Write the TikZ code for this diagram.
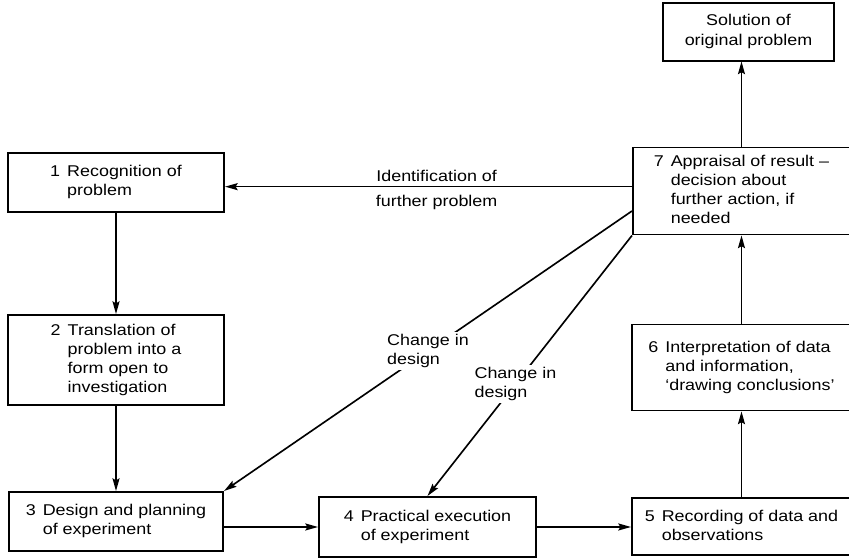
\documentclass[tikz,border=0pt]{standalone}
\usepackage{fontspec}
\setmainfont{Liberation Sans}[FakeStretch=1.15]
\usepackage{tikz}
\usetikzlibrary{arrows.meta}
\usetikzlibrary{positioning}
\tikzstyle{stage} = [rectangle, draw=black, line width=1.7pt, inner sep=0pt, minimum width=6.48cm, minimum height=1.77cm, text centered]
\tikzstyle{arrow} = [line width=1.4pt, -{Stealth[length=3.8mm, width=2.1mm, inset=0.6mm]}]
\tikzstyle{tag} = [fill=white, align=left, inner sep=1.5pt]
\newcommand{\stagetext}[2]{\begin{tabular}{@{}l@{\hspace{0.45em}}l@{}}#1&\begin{tabular}[t]{@{}l@{}}#2\end{tabular}\end{tabular}}

\begin{document}
\begin{tikzpicture}[font=\fontsize{13.3}{16.3}\selectfont]
                                \useasboundingbox (0,0) rectangle (25.47,-16.77);
                                \node (rec) [stage] at (3.48,-5.475) {\stagetext{1}{Recognition of\\problem}};
                                \node (trans) [stage, minimum height=2.7cm, below=3.03cm of rec] {\stagetext{2}{Translation of\\problem into a\\form open to\\investigation}};
                                \node (design) [stage, minimum width=6.42cm, below=2.55cm of trans] {\stagetext{3}{Design and planning\\of experiment}};
                                \node (exec) [stage, minimum width=6.51cm, minimum height=1.8cm, right=2.82cm of design, yshift=-0.165cm] {\stagetext{4}{Practical execution\\of experiment}};
                                \node (record) [stage, minimum width=6.57cm, minimum height=1.71cm, right=2.82cm of exec] {\stagetext{5}{Recording of data and\\observations}};
                                \node (interp) [stage, minimum width=6.57cm, minimum height=2.58cm, above=2.58cm of record] {\stagetext{6}{Interpretation of data\\and information,\\`drawing conclusions'}};
                                \node (apprais) [stage, minimum width=6.51cm, minimum height=2.61cm, above=2.64cm of interp] {\stagetext{7}{Appraisal of result --\\decision about\\further action, if\\needed}};
                                \node (sol) [stage, minimum width=5.13cm, minimum height=1.74cm, above=2.55cm of apprais, xshift=0.21cm, align=center] {Solution of\\original problem};
                                \draw [arrow] (rec) -- (trans);
                                \draw [arrow] (trans) -- (design);
                                \draw [arrow] (design.east |- exec.west) -- (exec.west);
                                \draw [arrow] (exec) -- (record);
                                \draw [arrow] (record) -- (interp);
                                \draw [arrow] (interp) -- (apprais);
                                \draw [arrow] (apprais.north) -- (apprais.north |- sol.south);
                                \draw [arrow] ([yshift=0.13cm]apprais.west) -- ([yshift=0.13cm]apprais.west -| rec.east) node (idtop) [pos=0.48, above] {Identification of} node (idbot) [pos=0.48, below, yshift=-0.1cm] {further problem};
                                \draw [arrow] ([yshift=-0.6cm]apprais.west) -- (design.north east) node (chgA) [tag, pos=0.5] {Change in\\design};
                                \draw [arrow] (apprais.south west) -- (exec.north) node (chgB) [tag, pos=0.57] {Change in\\design};
                            \end{tikzpicture}
\end{document}
